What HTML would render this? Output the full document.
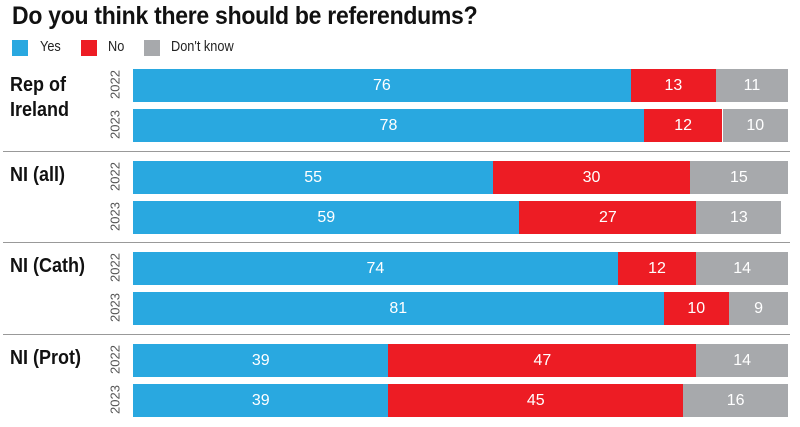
<!DOCTYPE html>
<html><head><meta charset="utf-8"><style>
body{margin:0;width:800px;height:427px;background:#fff;font-family:"Liberation Sans",sans-serif;overflow:hidden;position:relative}
.t{position:absolute;left:12px;top:2px;font-size:25px;font-weight:bold;color:#111;letter-spacing:-0.3px;transform:scaleX(0.92);transform-origin:left}
.lg{position:absolute;top:38px;font-size:15px;color:#222;transform:scaleX(0.85);transform-origin:left}
.sw{position:absolute;top:40px;width:16px;height:16px}
.grp{position:absolute;left:10px;font-size:20px;font-weight:bold;color:#111;line-height:25px;transform:scaleX(0.9);transform-origin:left}
.yr{position:absolute;font-size:13px;color:#555;transform:rotate(-90deg);transform-origin:center;width:40px;text-align:center}
.seg{position:absolute;height:33px;color:#fff;font-size:16px;text-align:center;line-height:33px}
.sep{position:absolute;left:3px;width:787px;height:1px;background:#999}
</style></head><body>
<div class="t">Do you think there should be referendums?</div>
<div class="sw" style="left:12px;background:#29a8e0"></div>
<div class="lg" style="left:40px">Yes</div>
<div class="sw" style="left:81px;background:#ed1c24"></div>
<div class="lg" style="left:108px">No</div>
<div class="sw" style="left:144px;background:#a7a9ac"></div>
<div class="lg" style="left:171px">Don't know</div>
<div id="chart"></div>
<script>
const groups=["Rep of<br>Ireland","NI (all)","NI (Cath)","NI (Prot)"];
const years=["2022","2023"];
const yes=[76,78,55,59,74,81,39,39];
const no=[13,12,30,27,12,10,47,45];
const dk=[11,10,15,13,14,9,14,16];
const c=document.getElementById('chart');
const x0=133,W=655,colors=["#29a8e0","#ed1c24","#a7a9ac"];
const xs=v=>v*W/100;
groups.forEach((g,gi)=>{
  const top=69+gi*91.7;
  const lab=document.createElement('div');lab.className='grp';lab.innerHTML=g;
  lab.style.top=(gi==0?top+4:top+2)+'px';
  
  
  c.appendChild(lab);
  if(gi>0){const s=document.createElement('div');s.className='sep';s.style.top=(top-10)+'px';
    
    
    c.appendChild(s);}
  years.forEach((y,yi)=>{
    const i=gi*2+yi,by=top+yi*40;
    const yl=document.createElement('div');yl.className='yr';yl.textContent=y;
    yl.style.left='95px';yl.style.top=(by+8)+'px';
    
    
    c.appendChild(yl);
    let x=x0;
    [yes[i],no[i],dk[i]].forEach((v,k)=>{
      const s=document.createElement('div');s.className='seg';
      s.style.left=x+'px';s.style.top=by+'px';s.style.width=xs(v)+'px';s.style.background=colors[k];
      s.textContent=v;
      
      
      c.appendChild(s);x+=xs(v);
    });
  });
});
</script>
</body></html>
